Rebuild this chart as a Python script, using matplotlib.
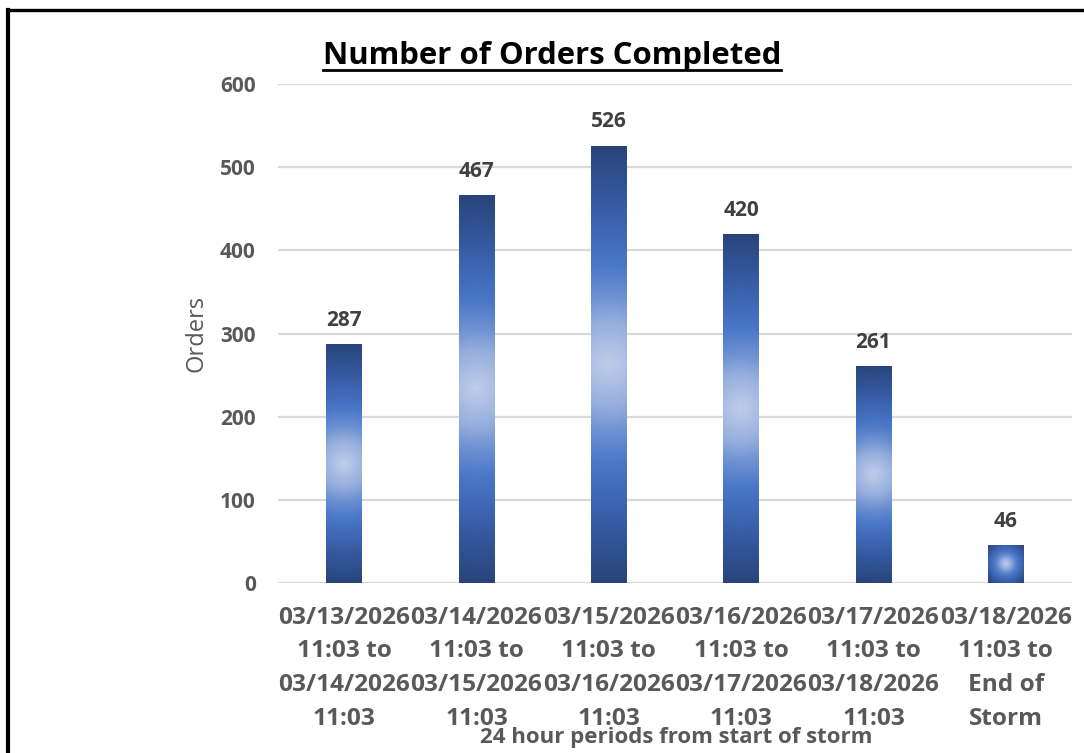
import numpy as np
import matplotlib
matplotlib.use("Agg")
import matplotlib.pyplot as plt
from matplotlib.colors import LinearSegmentedColormap
from matplotlib.lines import Line2D

# data
periods = [
    "03/13/2026\n11:03 to\n03/14/2026\n11:03",
    "03/14/2026\n11:03 to\n03/15/2026\n11:03",
    "03/15/2026\n11:03 to\n03/16/2026\n11:03",
    "03/16/2026\n11:03 to\n03/17/2026\n11:03",
    "03/17/2026\n11:03 to\n03/18/2026\n11:03",
    "03/18/2026\n11:03 to\nEnd of\nStorm",
]
orders = [287, 467, 526, 420, 261, 46]
y_ticks = [0, 100, 200, 300, 400, 500, 600]

FONT = "Open Sans"
GRAY = "#595959"

plt.rcParams["font.family"] = [FONT, "DejaVu Sans"]

W, H = 1084, 753
fig = plt.figure(figsize=(W / 100, H / 100), dpi=100)
fig.patch.set_facecolor("white")

# plot area in pixels: x 278..1072, y 84..583 (from top)
ax = fig.add_axes([278 / W, 1 - 583 / H, (1072 - 278) / W, (583 - 84) / H])
ax.set_xlim(-0.5, len(orders) - 0.5)
ax.set_ylim(0, 600)
for s in ax.spines.values():
    s.set_visible(False)
ax.set_axisbelow(True)
ax.yaxis.grid(True, color="#D9D9D9", linewidth=1.6)
ax.set_yticks(y_ticks)
ax.set_yticklabels([str(t) for t in y_ticks], fontsize=15, fontweight="bold", color=GRAY)
ax.set_xticks(range(len(periods)))
ax.set_xticklabels(periods, fontsize=17.6, fontweight="bold", color=GRAY, linespacing=1.53)
ax.tick_params(axis="both", length=0)
ax.tick_params(axis="y", pad=16)
ax.tick_params(axis="x", pad=16.5)

# gradient bars
cmap = LinearSegmentedColormap.from_list("bargrad", [
    (0.0, "#BFCDEA"), (0.2, "#94ACDD"), (0.3, "#7093D3"), (0.45, "#4A78C8"),
    (0.6, "#3F68B6"), (0.75, "#3559A0"), (1.0, "#284479")])

bar_w = 0.272
bars = ax.bar(range(len(orders)), orders, width=bar_w, color="none", edgecolor="none", zorder=2)
px_x = (1072 - 278) / 6.0
px_y = (583 - 84) / 600.0
for b, v in zip(bars, orders):
    wpx = bar_w * px_x
    hpx = v * px_y
    nx, ny = max(int(wpx), 2), max(int(hpx), 2)
    xs = np.linspace(-wpx / 2, wpx / 2, nx)
    ys = np.linspace(-hpx / 2, hpx / 2, ny)
    X, Y = np.meshgrid(xs, ys)
    rad = np.hypot(wpx / 2, hpx / 2)
    R = np.clip(np.hypot(X, Y) / rad, 0, 1)
    x0 = b.get_x()
    im = ax.imshow(R, cmap=cmap, vmin=0, vmax=1, extent=(x0, x0 + bar_w, 0, v),
                   aspect="auto", origin="lower", zorder=2, interpolation="bilinear")
    im.set_clip_path(b)
    ax.annotate(str(v), (b.get_x() + bar_w / 2, v), xytext=(0, 17), textcoords="offset points",
                ha="center", va="center", fontsize=15, fontweight="bold", color="#404040")

# title with underline
title = fig.text(552 / W, 1 - 56 / H, "Number of Orders Completed", ha="center", va="center",
                 fontsize=22.4, fontweight="bold", color="black")
fig.canvas.draw()
bb = title.get_window_extent()
uy = 1 - 69.5 / H
fig.add_artist(Line2D([bb.x0 / W, bb.x1 / W], [uy, uy], color="black", linewidth=2))

# axis titles
fig.text(676 / W, 1 - 737 / H, "24 hour periods from start of storm", ha="center", va="center",
         fontsize=16, fontweight="bold", color=GRAY)
fig.text(197 / W, 1 - 333 / H, "Orders", ha="center", va="center", rotation=90,
         fontsize=17, color=GRAY)

# black frame (left and top edges visible)
fig.add_artist(Line2D([8 / W, 8 / W], [-0.05, 1 - 9.5 / H], color="black", linewidth=3))
fig.add_artist(Line2D([8 / W, 1.05], [1 - 9.5 / H, 1 - 9.5 / H], color="black", linewidth=2.4))

fig.savefig("out.png", dpi=100)
